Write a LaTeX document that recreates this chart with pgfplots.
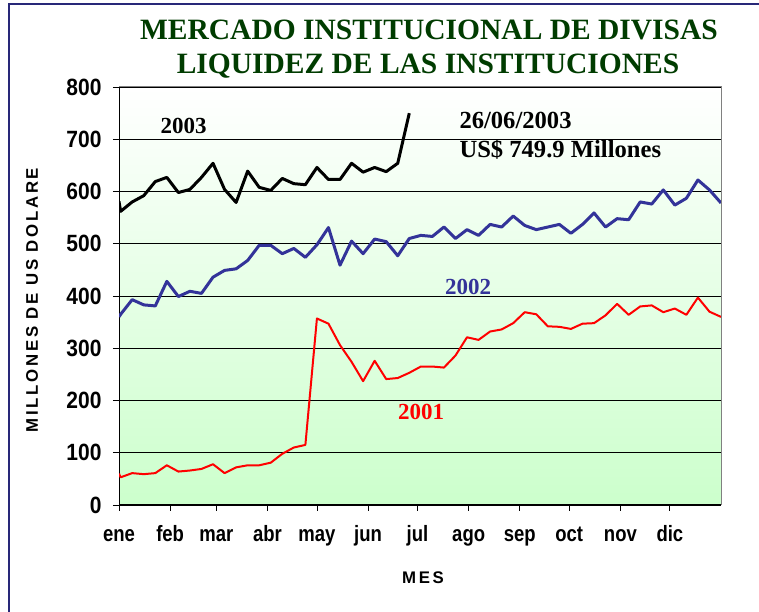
\documentclass[border=0pt]{standalone}
\usepackage{fontspec}
\setmainfont{Liberation Serif}
\newfontfamily\arialb{Liberation Sans}
\newfontfamily\arialsp{Liberation Sans}[LetterSpace=16]
\usepackage{graphicx}
\usepackage{pgfplots}
\pgfplotsset{compat=1.18}
\definecolor{titlegreen}{RGB}{0,60,0}
\definecolor{bggreen}{RGB}{204,255,204}
\definecolor{line02}{RGB}{51,51,153}
\definecolor{framecol}{RGB}{40,40,120}
\newcommand{\xl}[1]{\scalebox{1}[1.2]{#1}}
\begin{document}
\begin{tikzpicture}
\path[use as bounding box, fill=white] (0,0) rectangle (759pt,612pt);
\draw[framecol, line width=1.2pt] (9pt,0) -- (9pt,608pt) -- (759pt,608pt);
\begin{axis}[
  at={(119pt,107pt)}, anchor=south west,
  scale only axis, width=602pt, height=418pt,
  xmin=0, xmax=365, ymin=0, ymax=800,
  axis x line*=bottom, axis y line*=left,
  axis line style={-, black, line width=1pt},
  xtick pos=left, ytick pos=left,
  axis background/.style={top color=white, bottom color=bggreen},
  xtick={0,31,59,90,120,151,181,212,243,273,304,334},
  xticklabels={\xl{ene},\xl{feb},\xl{mar},\xl{abr},\xl{may},\xl{jun},\xl{jul},\xl{ago},\xl{sep},\xl{oct},\xl{nov},\xl{dic}},
  ytick={0,100,...,800},
  yticklabel={\scalebox{1}[1.12]{\pgfmathprintnumber{\tick}}},
  tick align=outside, major tick length=6pt,
  tick style={black, line width=0.8pt},
  ymajorgrids, grid style={black, line width=0.8pt},
  x tick label style={font=\arialb\bfseries\fontsize{18.5}{20}\selectfont, anchor=base, yshift=-30.7pt},
  y tick label style={font=\arialb\bfseries\fontsize{21}{23}\selectfont, anchor=east, xshift=-8pt},
  /pgf/number format/assume math mode=true,
  clip=true,
  after end axis/.code={\draw[gray, line width=1pt] (rel axis cs:0,1) -- (rel axis cs:1,1) -- (rel axis cs:1,0);},
]
% 2001
\addplot[red, line width=2pt, line join=round] table {
x y
0 60
1 53
8 61
15 59
22 61
29 76
36 64
43 66
50 69
57 78
64 61
71 72
78 76
85 76
92 81
99 98
106 110
113 115
120 357
127 347
134 306
141 274
148 237
155 276
162 241
169 243
176 253
183 265
190 265
197 263
204 286
211 321
218 316
225 332
232 336
239 348
246 369
253 365
260 342
267 341
274 337
281 347
288 348
295 363
302 385
309 364
316 380
323 382
330 369
337 376
344 364
351 397
358 370
365 360
};
% 2002
\addplot[line02, line width=3pt, line join=round] table {
x y
0 360
1 365
8 393
15 383
22 381
29 428
36 399
43 409
50 405
57 436
64 449
71 452
78 468
85 497
92 497
99 481
106 491
113 474
120 498
127 531
134 459
141 505
148 481
155 509
162 504
169 477
176 510
183 516
190 514
197 532
204 510
211 527
218 516
225 537
232 532
239 553
246 535
253 527
260 532
267 537
274 520
281 537
288 559
295 532
302 548
309 546
316 580
323 576
330 603
337 574
344 587
351 622
358 603
365 578
};
% 2003
\addplot[black, line width=3pt, line join=round] table {
x y
0 581
1 562
8 580
15 592
22 619
29 627
36 598
43 604
50 627
57 654
64 604
71 579
78 639
85 608
92 602
99 625
106 615
113 613
120 646
127 623
134 623
141 654
148 637
155 646
162 638
169 654
176 749.9
};
\end{axis}
% titles and labels
\node[anchor=base, text=titlegreen, font=\bfseries\fontsize{29.5}{32}\selectfont] at (429pt,572pt) {MERCADO INSTITUCIONAL DE DIVISAS};
\node[anchor=base, text=titlegreen, font=\bfseries\fontsize{29.5}{32}\selectfont] at (428pt,538.5pt) {LIQUIDEZ DE LAS INSTITUCIONES};
\node[rotate=90, font=\arialsp\bfseries\fontsize{16.8}{18}\selectfont] at (32pt,312pt) {MILLONES DE US DOLARE};
\node[font=\arialsp\bfseries\fontsize{16.8}{18}\selectfont] at (423pt,34pt) {MES};
\node[anchor=base, font=\bfseries\fontsize{23}{25}\selectfont] at (183.5pt,478.7pt) {2003};
\node[anchor=base west, inner sep=0pt, font=\bfseries\fontsize{24.6}{26}\selectfont] at (459.3pt,483pt) {26/06/2003};
\node[anchor=base west, inner sep=0pt, font=\bfseries\fontsize{24.6}{26}\selectfont] at (459.3pt,454pt) {US\$ 749.9 Millones};
\node[anchor=base, text=line02, font=\bfseries\fontsize{23}{25}\selectfont] at (468pt,317pt) {2002};
\node[anchor=base, text=red, font=\bfseries\fontsize{23}{25}\selectfont] at (421pt,192.7pt) {2001};
\end{tikzpicture}
\end{document}
